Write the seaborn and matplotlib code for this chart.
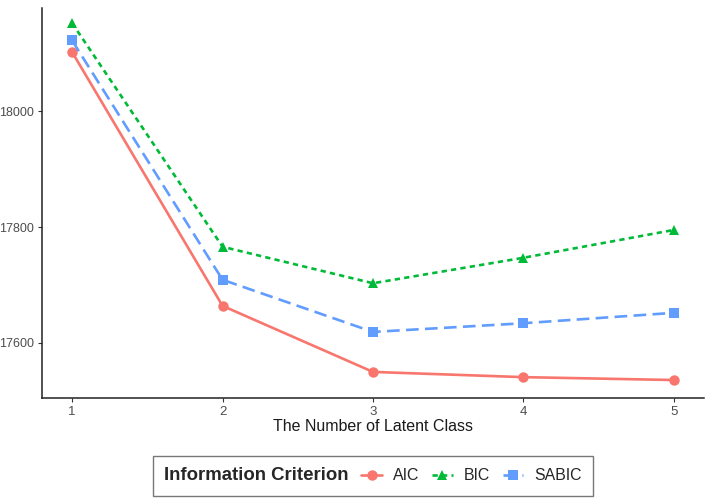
import matplotlib
matplotlib.use("Agg")
import matplotlib.pyplot as plt
import seaborn as sns
import pandas as pd

# Data
classes = [1, 2, 3, 4, 5]
aic = [18102, 17664, 17550, 17541, 17536]
bic = [18152, 17766, 17703, 17747, 17795]
sabic = [18122, 17709, 17619, 17634, 17652]
criteria = ["AIC", "BIC", "SABIC"]

df = pd.DataFrame({
    "k": classes * 3,
    "value": aic + bic + sabic,
    "crit": [c for c in criteria for _ in classes],
})

palette = {"AIC": "#F8766D", "BIC": "#00BA38", "SABIC": "#619CFF"}
markers = {"AIC": "o", "BIC": "^", "SABIC": "s"}
dashes = {"AIC": "", "BIC": (2, 1.6), "SABIC": (4.8, 2.4)}

sns.set_style("white")
plt.rcParams["font.family"] = ["Liberation Sans", "DejaVu Sans"]

fig = plt.figure(figsize=(7.08, 4.99), dpi=100)
ax = fig.add_axes([42 / 708, 1 - 398 / 499, 662 / 708, 390 / 499])

sns.lineplot(data=df, x="k", y="value", hue="crit", style="crit",
             palette=palette, markers=markers, dashes=dashes,
             linewidth=1.9, markersize=7.5, markeredgewidth=0, ax=ax)

ax.set_xlim(0.80, 5.20)
ax.set_ylim(17505, 18178)
ax.set_xticks(classes)
ax.set_yticks([17600, 17800, 18000])
ax.tick_params(axis="both", labelsize=9, colors="#333333", length=3,
               width=0.8, direction="out", bottom=True, left=True, pad=2.5)
ax.tick_params(axis="x", labelsize=9.5)
ax.tick_params(axis="both", labelcolor="#4d4d4d")
for s in ["top", "right"]:
    ax.spines[s].set_visible(False)
for s in ["left", "bottom"]:
    ax.spines[s].set_color("#222222")
    ax.spines[s].set_linewidth(1.1)
ax.set_xlabel("The Number of Latent Class", fontsize=11.5, labelpad=1,
              color="#1a1a1a")
ax.set_ylabel("")

handles, labels = ax.get_legend_handles_labels()
ax.get_legend().remove()
leg = fig.legend(handles, labels, title="Information Criterion", ncol=3,
                 loc="center", bbox_to_anchor=(373 / 708, 1 - 476 / 499),
                 frameon=True, fancybox=False, edgecolor="#555555",
                 fontsize=11.4, handlelength=1.3, columnspacing=0.8,
                 handletextpad=0.7, borderpad=0.7)
leg.get_frame().set_linewidth(1.0)
leg.get_title().set_fontweight("bold")
leg.get_title().set_fontsize(13.4)

# move the legend title to the left of the entries
box = leg.get_children()[0]
title_box = box.get_children()[0]
hpack = box.get_children()[1]
box._children = [hpack]
hpack._children = [title_box] + hpack.get_children()
hpack.align = "center"

fig.savefig("out.png", dpi=100)
